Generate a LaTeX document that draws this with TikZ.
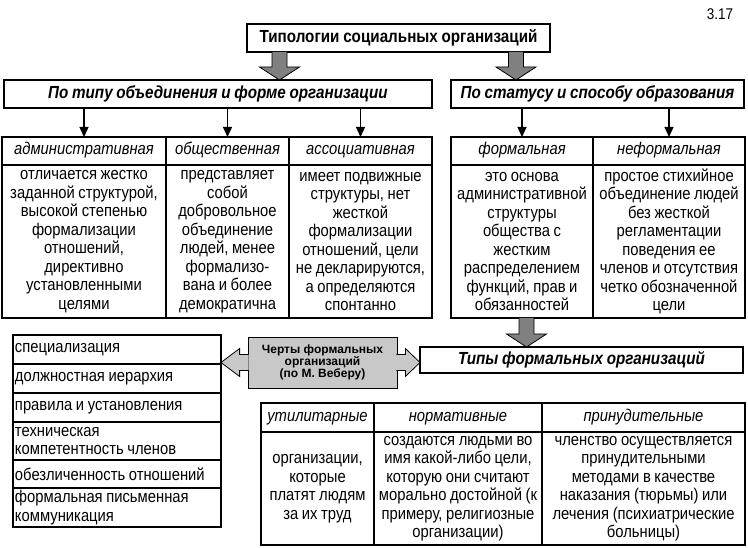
\documentclass[tikz,border=0pt]{standalone}
\usepackage{fontspec}
\setmainfont{Liberation Sans}[FakeStretch=0.87, WordSpace=0.87]
\newfontfamily\weberfont{Liberation Sans}
\usetikzlibrary{arrows.meta, calc}
\definecolor{arrowgray}{HTML}{808080}
\definecolor{webergray}{HTML}{C8C8C8}

\begin{document}
\begin{tikzpicture}[x = 1pt, y = -1pt]
	% Keep the margins of the original drawing
	\useasboundingbox (0, 0) rectangle (748, 548);

	% Styles of the boxes, table cells and arrows
	\tikzset{
		box/.style = {draw, line width = 1.6pt, outer sep = 0pt, inner sep = 0pt, font = \fontsize{17.5}{19}\selectfont\bfseries},
		cell/.style = {draw, line width = 1.2pt, outer sep = 0pt, inner sep = 0pt, anchor = north west, align = flush center, font = \fontsize{17}{18.5}\selectfont},
		head/.style = {cell, text height = 12pt, text depth = 4pt, font = \fontsize{17}{18.5}\selectfont\itshape},
		item/.style = {cell, align = flush left, text width = 204pt, inner xsep = 2pt},
		frame/.style = {draw, line width = 1.8pt},
		small arrow/.style = {-{Triangle[length = 10pt, width = 9pt]}, line width = 1.3pt},
		big arrow/.style = {draw, fill = arrowgray, line width = 0.8pt, to path = {
			let \p1 = (\tikztostart), \p2 = (\tikztotarget) in
			(\x1-7.5pt, \y1) -- (\x1-7.5pt, \y2+13pt) -- (\x1-20pt, \y2+13pt) -- (\x2, \y2)
			-- (\x1+20pt, \y2+13pt) -- (\x1+7.5pt, \y2+13pt) -- (\x1+7.5pt, \y1)}},
		side arrow/.style = {draw, fill = webergray, line width = 0.8pt, to path = {
			let \p1 = ($(\tikztostart)!-1pt!(\tikztotarget)$), \p2 = (\tikztotarget),
			\p3 = ($(\tikztostart)!8pt!(\tikztotarget)$) in
			(\x1, \y1+8pt) -- (\x3, \y1+8pt) -- (\x3, \y1+14pt) -- (\x2, \y2)
			-- (\x3, \y1-14pt) -- (\x3, \y1-8pt) -- (\x1, \y1-8pt)}}
	}

	% Number of the figure
	\node[font = \fontsize{15.5}{18}\selectfont] (num) at (720, 14) {3.17};

	% Title and the two kinds of typology
	\node[box, minimum width = 303, minimum height = 28] (title) at (398.5, 38) {Типологии социальных организаций};
	\node[box, font = \fontsize{17.5}{19}\selectfont\bfseries\itshape, minimum width = 428, minimum height = 28] (bytype) at (218, 94) {По типу объединения и форме организации};
	\node[box, font = \fontsize{17.5}{19}\selectfont\bfseries\itshape, minimum width = 293, minimum height = 28] (bystatus) at (597.5, 94) {По статусу и способу образования};

	% Gray arrows from the title
	\coordinate (arrL) at (279.5, 0);
	\coordinate (arrR) at (516, 0);
	\coordinate (arrD) at (526.5, 0);
	\draw[big arrow] (arrL |- title.south) to (arrL |- bytype.north);
	\draw[big arrow] (arrR |- title.south) to (arrR |- bystatus.north);

	% Table by type of union
	\node[head, minimum width = 164, minimum height = 28] (adm) at (2, 137) {административная};
	\node[head, minimum width = 123, minimum height = 28] (soc) at (166, 137) {общественная};
	\node[head, minimum width = 143, minimum height = 28] (assoc) at (289, 137) {ассоциативная};
	\node[cell, minimum width = 164, minimum height = 153] (admtxt) at (2, 165) {отличается жестко\\заданной структурой,\\высокой степенью\\формализации\\отношений,\\директивно\\установленными\\целями};
	\node[cell, minimum width = 123, minimum height = 153] (soctxt) at (166, 165) {представляет\\собой\\добровольное\\объединение\\людей, менее\\формализо-\\вана и более\\демократична};
	\node[cell, minimum width = 143, minimum height = 153] (assoctxt) at (289, 165) {имеет подвижные\\структуры, нет\\жесткой\\формализации\\отношений, цели\\не декларируются,\\а определяются\\спонтанно};
	\draw[frame] (adm.north west) rectangle (assoctxt.south east);

	% Table by status
	\node[head, minimum width = 142, minimum height = 28] (formal) at (451, 137) {формальная};
	\node[head, minimum width = 152, minimum height = 28] (informal) at (593, 137) {неформальная};
	\node[cell, minimum width = 142, minimum height = 153] (formaltxt) at (451, 165) {это основа\\административной\\структуры\\общества с\\жестким\\распределением\\функций, прав и\\обязанностей};
	\node[cell, minimum width = 152, minimum height = 153] (informaltxt) at (593, 165) {простое стихийное\\объединение людей\\без жесткой\\регламентации\\поведения ее\\членов и отсутствия\\четко обозначенной\\цели};
	\draw[frame] (formal.north west) rectangle (informaltxt.south east);

	% Black arrows to the columns
	\foreach \col in {adm, soc, assoc}
		\draw[small arrow] (bytype.south -| \col.north) -- (\col.north);
	\foreach \col in {formal, informal}
		\draw[small arrow] (bystatus.south -| \col.north) -- (\col.north);

	% Types of formal organisations
	\node[box, font = \fontsize{17.5}{19}\selectfont\bfseries\itshape, minimum width = 323, minimum height = 26] (types) at (581.5, 360) {Типы формальных организаций};
	\draw[big arrow] (arrD |- formaltxt.south) to (arrD |- types.north);

	% Features after Weber
	\node[item, minimum height = 29] (spec) at (13, 335) {специализация};
	\node[item, minimum height = 29] (hier) at (13, 364) {должностная иерархия};
	\node[item, minimum height = 29] (rules) at (13, 393) {правила и установления};
	\node[item, minimum height = 38] (comp) at (13, 422) {техническая\\компетентность членов};
	\node[item, minimum height = 28] (imp) at (13, 460) {обезличенность отношений};
	\node[item, minimum height = 39] (comm) at (13, 488) {формальная письменная\\коммуникация};
	\draw[frame] (spec.north west) rectangle (comm.south east);

	\node[draw, fill = webergray, line width = 0.8pt, minimum width = 149, minimum height = 51, align = center,
		font = \weberfont\fontsize{12}{12}\selectfont\bfseries] (weber) at (322.5, 362.5) {Черты формальных\\организаций\\(по М. Веберу)};
	\draw[side arrow] (weber.west) to (weber.west -| spec.east);
	\draw[side arrow] (weber.east) to (weber.east -| types.west);

	% Table of the types
	\node[head, minimum width = 113, minimum height = 29] (util) at (261, 403) {утилитарные};
	\node[head, minimum width = 168, minimum height = 29] (norm) at (374, 403) {нормативные};
	\node[head, minimum width = 203, minimum height = 29] (coerc) at (542, 403) {принудительные};
	\node[cell, minimum width = 113, minimum height = 113] (utiltxt) at (261, 432) {организации,\\которые\\платят людям\\за их труд};
	\node[cell, minimum width = 168, minimum height = 113] (normtxt) at (374, 432) {создаются людьми во\\имя какой-либо цели,\\которую они считают\\морально достойной (к\\примеру, религиозные\\организации)};
	\node[cell, minimum width = 203, minimum height = 113] (coerctxt) at (542, 432) {членство осуществляется\\принудительными\\методами в качестве\\наказания (тюрьмы) или\\лечения (психиатрические\\больницы)};
	\draw[frame] (util.north west) rectangle (coerctxt.south east);
\end{tikzpicture}
\end{document}
